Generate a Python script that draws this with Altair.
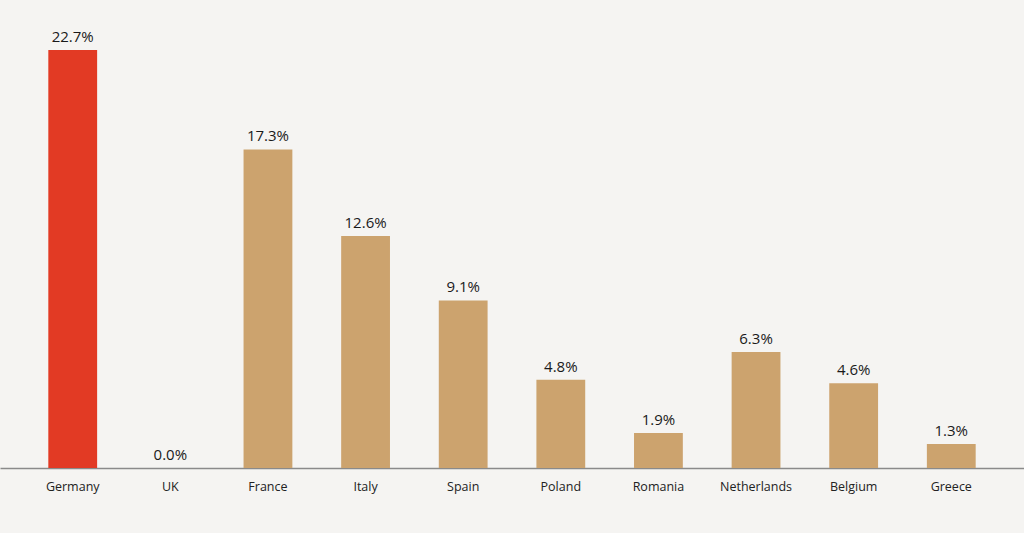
import altair as alt
import pandas as pd

countries = ["Germany", "UK", "France", "Italy", "Spain", "Poland", "Romania", "Netherlands", "Belgium", "Greece"]
values = [22.7, 0.0, 17.3, 12.6, 9.1, 4.8, 1.9, 6.3, 4.6, 1.3]
highlight = ["Germany"]

df = pd.DataFrame({"country": countries, "value": values})
df["label"] = [f"{v:.1f}%" for v in values]
df["hl"] = ["yes" if c in highlight else "no" for c in countries]

FONT = "Open Sans"

x = alt.X("country:N", sort=countries,
          scale=alt.Scale(paddingInner=0.5, paddingOuter=0.495),
          axis=alt.Axis(title=None, labelAngle=0, ticks=False, domainColor="#8a8a8a",
                        domainWidth=1.5, labelFont=FONT, labelFontSize=12.5,
                        labelColor="#222222", labelPadding=12))
y = alt.Y("value:Q", scale=alt.Scale(domain=[0, 25.42], nice=False), axis=None)

bars = alt.Chart(df).mark_bar().encode(
    x=x, y=y,
    color=alt.Color("hl:N", scale=alt.Scale(domain=["yes", "no"], range=["#e23a24", "#cca36e"]), legend=None),
)
text = alt.Chart(df).mark_text(dy=-5, font=FONT, fontSize=15, color="#1a1a1a", baseline="bottom").encode(
    x=alt.X("country:N", sort=countries), y=y, text="label:N"
)

chart = (bars + text).properties(
    width=1024, height=468,
    autosize=alt.AutoSizeParams(type="none"),
    padding={"left": 0, "top": 0, "right": 0, "bottom": 65},
    background="#f5f4f2",
).configure_view(stroke=None)

chart.save("out.html", embed_options={"renderer": "svg", "actions": False})
